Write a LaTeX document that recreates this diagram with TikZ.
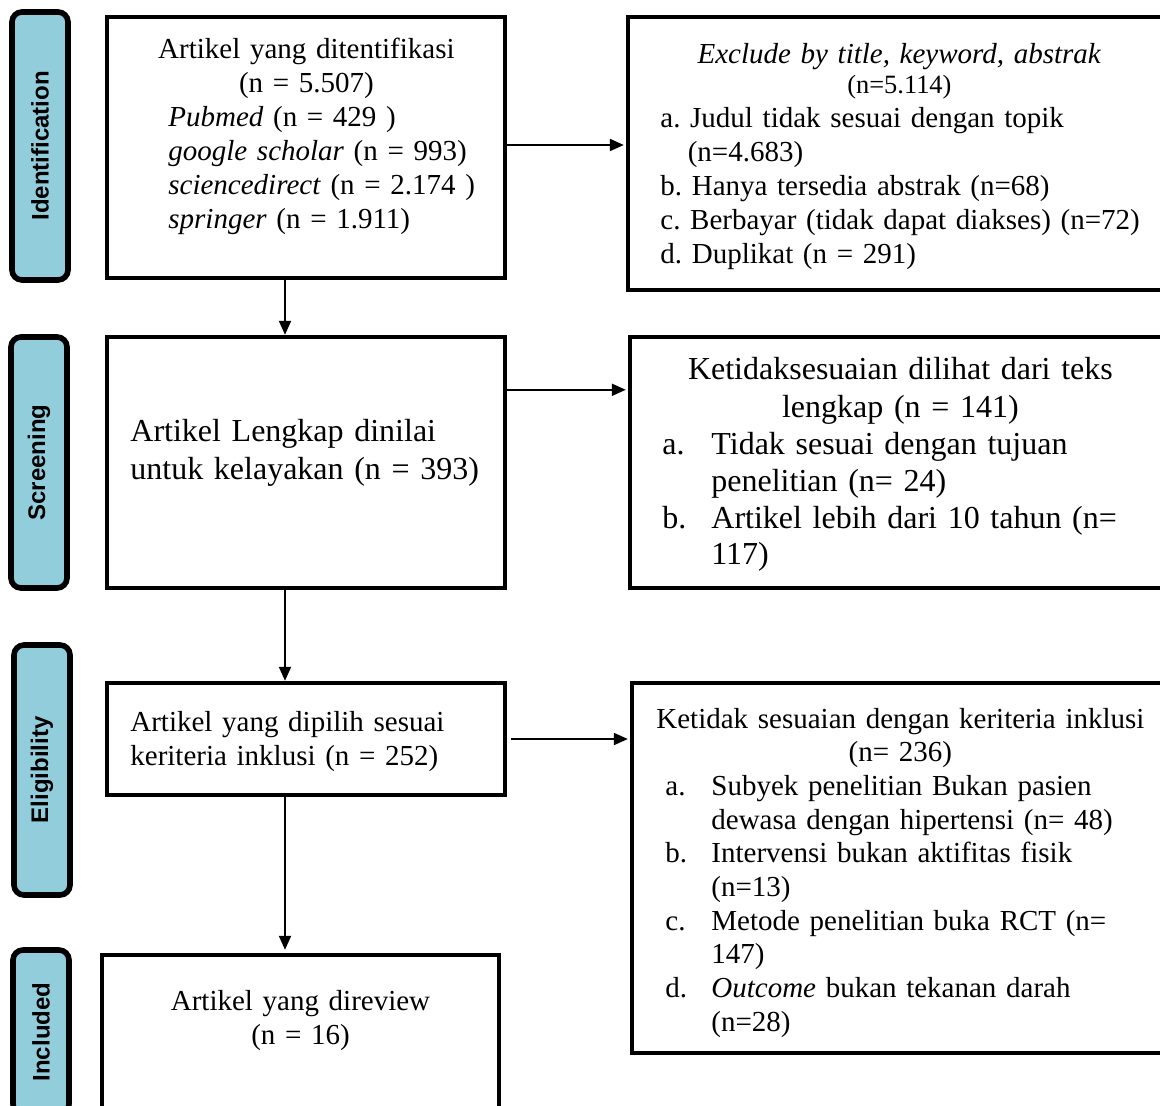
\documentclass[tikz,border=0pt]{standalone}
\usepackage{fontspec}
\setmainfont{Liberation Serif}
\newfontfamily\phasefont{Liberation Sans}
\usetikzlibrary{arrows.meta,calc}
\definecolor{Sky}{HTML}{92CDDC}
\newcommand\bodytext{\fontsize{14.5}{17}\selectfont}
\newcommand\bigtext{\fontsize{16}{18.5}\selectfont}
\frenchspacing

\begin{document}
\begin{tikzpicture}[x=0.5pt, y=-0.5pt,
    phase/.style={draw, line width=2.8pt, fill=Sky, rounded corners=5pt, rotate=90,
      minimum height=28pt, inner sep=0pt, font=\phasefont\bfseries\fontsize{12}{14}\selectfont},
    box/.style={draw, line width=2.2pt, inner sep=0pt},
    txt/.style={anchor=base west, inner sep=0pt, text width=290pt, align=left, font=\bodytext},
    arr/.style={-{Triangle[length=7pt,width=6pt]}, line width=1pt}]
  \useasboundingbox (0,0) rectangle (1160,1106);
  \clip (0,0) rectangle (1160,1106);

  % phase labels
  \node[phase, minimum width=134pt] (pident) at (40,146) {Identification};
  \node[phase, minimum width=125.5pt] (pscreen) at (39,462.5) {Screening};
  \node[phase, minimum width=125pt] (pelig) at (42,770) {Eligibility};
  \node[phase, minimum width=82pt] (pincl) at (41,1032) {Included};

  % main boxes
  \node[box, minimum width=199pt, minimum height=130.5pt] (ident) at (306,147.5) {};
  \node[box, minimum width=199pt, minimum height=125.5pt] (screen) at (306,462.5) {};
  \node[box, minimum width=199pt, minimum height=56pt] (elig) at (306,739) {};
  \node[box, minimum width=198.5pt, minimum height=97.5pt] (incl) at (300.5,1052.5) {};

  % excluded boxes
  \node[box, minimum width=286pt, minimum height=136.5pt] (exc1) at (914,153.5) {};
  \node[box, minimum width=285pt, minimum height=125.5pt] (exc2) at (915,462.5) {};
  \node[box, minimum width=284pt, minimum height=185pt] (exc3) at (916,868) {};

  % texts
  \node[txt] (identtxt) at (168,59) {%
    \makebox[138pt]{Artikel yang ditentifikasi}\\
    \makebox[138pt]{(n = 5.507)}\\
    \textit{Pubmed} (n = 429 )\\
    \textit{google scholar} (n = 993)\\
    \textit{sciencedirect} (n = 2.174 )\\
    \textit{springer} (n = 1.911)};
  \node[txt, font=\bigtext] (screentxt) at (130,442) {%
    Artikel Lengkap dinilai\\
    untuk kelayakan (n = 393)};
  \node[txt] (eligtxt) at (130,731) {%
    Artikel yang dipilih sesuai\\
    keriteria inklusi (n = 252)};
  \node[txt, anchor=base, text width=200pt, align=center] (incltxt) at (300.5,1010) {%
    Artikel yang direview\\
    (n = 16)};

  \node[txt] (exc1txt) at (660,64) {%
    \makebox[239pt]{\textit{Exclude by title, keyword, abstrak}}\\[-2pt]
    \makebox[239pt]{\fontsize{13.2}{17}\selectfont (n=5.114)}\\
    a. Judul tidak sesuai dengan topik\\
    \hspace*{13.7pt}(n=4.683)\\
    b. Hanya tersedia abstrak (n=68)\\
    c. Berbayar (tidak dapat diakses) (n=72)\\
    d. Duplikat (n = 291)};
  \node[txt, font=\bigtext] (exc2txt) at (662,380) {%
    \makebox[238pt]{Ketidaksesuaian dilihat dari teks}\\
    \makebox[238pt]{lengkap (n = 141)}\\
    \makebox[24.5pt][l]{a.}Tidak sesuai dengan tujuan\\
    \hspace*{24.5pt}penelitian (n= 24)\\
    \makebox[24.5pt][l]{b.}Artikel lebih dari 10 tahun (n=\\
    \hspace*{24.5pt}117)};
  \node[txt, font=\fontsize{14.5}{16.85}\selectfont] (exc3txt) at (665,728) {%
    \makebox[235pt]{Ketidak sesuaian dengan keriteria inklusi}\\
    \makebox[235pt]{(n= 236)}\\
    \makebox[23pt][l]{a.}Subyek penelitian Bukan pasien\\
    \hspace*{23pt}dewasa dengan hipertensi (n= 48)\\
    \makebox[23pt][l]{b.}Intervensi bukan aktifitas fisik\\
    \hspace*{23pt}(n=13)\\
    \makebox[23pt][l]{c.}Metode penelitian buka RCT (n=\\
    \hspace*{23pt}147)\\
    \makebox[23pt][l]{d.}\textit{Outcome} bukan tekanan darah\\
    \hspace*{23pt}(n=28)};

  % arrows
  \coordinate (spine) at (285,0);
  \coordinate (out1) at ([yshift=1.25pt]ident.east);
  \coordinate (out2) at ([yshift=-27.5pt]screen.north east);
  \draw[arr] (ident.south -| spine) -- (screen.north -| spine);
  \draw[arr] (screen.south -| spine) -- (elig.north -| spine);
  \draw[arr, shorten >=1.5pt] (elig.south -| spine) -- (incl.north -| spine);
  \draw[arr, shorten >=1pt] (out1) -- (exc1.west |- out1);
  \draw[arr, shorten >=1pt] (out2) -- (exc2.west |- out2);
  \draw[arr, shorten <=2pt, shorten >=1pt] (elig.east) -- (exc3.west |- elig.east);
\end{tikzpicture}
\end{document}
